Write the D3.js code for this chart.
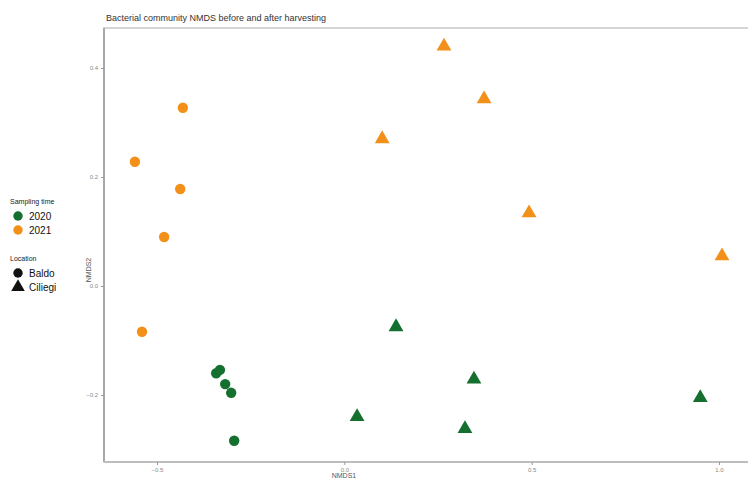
<!DOCTYPE html>
<html>
<head>
<meta charset="utf-8">
<script src="https://cdn.jsdelivr.net/npm/d3@7"></script>
<style>
  body { margin: 0; background: #fff; }
  svg { display: block; font-family: "Liberation Sans", Arial, sans-serif; }
</style>
</head>
<body>
<svg id="chart" width="748" height="480"></svg>
<script>
// NMDS scores per sample
const baldo2020   = [[-0.342, -0.160], [-0.332, -0.154], [-0.318, -0.180], [-0.302, -0.196], [-0.294, -0.284]];
const baldo2021   = [[-0.431, 0.327], [-0.559, 0.228], [-0.438, 0.178], [-0.481, 0.090], [-0.540, -0.084]];
const ciliegi2020 = [[0.138, -0.075], [0.346, -0.171], [0.034, -0.240], [0.322, -0.262], [0.950, -0.205]];
const ciliegi2021 = [[0.266, 0.440], [0.373, 0.343], [0.101, 0.270], [0.493, 0.134], [1.008, 0.055]];

const xTicks = [-0.5, 0.0, 0.5, 1.0];
const yTicks = [-0.2, 0.0, 0.2, 0.4];
const years = ["2020", "2021"];
const locations = ["Baldo", "Ciliegi"];
const yearColor = { "2020": "#15702f", "2021": "#f2901a" };

const svg = d3.select("#chart");
const panel = { left: 104, top: 28, right: 760, bottom: 462 };

const x = d3.scaleLinear().domain([-0.5, 1.0]).range([157, 719]);
const y = d3.scaleLinear().domain([-0.2, 0.4]).range([395, 68]);

// panel frame
svg.append("rect")
  .attr("x", panel.left).attr("y", panel.top)
  .attr("width", panel.right - panel.left).attr("height", panel.bottom - panel.top)
  .attr("fill", "none").attr("stroke", "#c8c8c8").attr("stroke-width", 1.5);
svg.append("line").attr("x1", panel.left).attr("x2", panel.left).attr("y1", panel.top).attr("y2", panel.bottom)
  .attr("stroke", "#a8a8a8").attr("stroke-width", 2);
svg.append("line").attr("x1", panel.left).attr("x2", panel.right).attr("y1", panel.bottom).attr("y2", panel.bottom)
  .attr("stroke", "#bdbdbd").attr("stroke-width", 2);

// axes
const xAxis = svg.append("g").attr("transform", `translate(0,${panel.bottom})`)
  .call(d3.axisBottom(x).tickValues(xTicks).tickFormat(d3.format(".1f")).tickSize(3).tickPadding(3));
const yAxis = svg.append("g").attr("transform", `translate(${panel.left},0)`)
  .call(d3.axisLeft(y).tickValues(yTicks).tickFormat(d3.format(".1f")).tickSize(3).tickPadding(3));
[xAxis, yAxis].forEach(a => {
  a.select(".domain").remove();
  a.selectAll(".tick line").attr("stroke", "#999");
  a.selectAll(".tick text").attr("fill", "#888").attr("font-size", 6);
});

// title and axis titles
svg.append("text").attr("x", 106).attr("y", 21)
  .attr("font-size", 9).attr("fill", "#333")
  .text("Bacterial community NMDS before and after harvesting");
svg.append("text").attr("transform", "translate(91,270) rotate(-90)")
  .attr("text-anchor", "middle").attr("font-size", 7).attr("fill", "#555").text("NMDS2");
svg.append("text").attr("x", 344).attr("y", 478)
  .attr("text-anchor", "middle").attr("font-size", 7).attr("fill", "#555").text("NMDS1");

// points
const circleSym = d3.symbol().type(d3.symbolCircle).size(85);
const triSym = d3.symbol().type(d3.symbolTriangle).size(95);
const groups = [
  { data: baldo2020, year: "2020", loc: "Baldo" },
  { data: baldo2021, year: "2021", loc: "Baldo" },
  { data: ciliegi2020, year: "2020", loc: "Ciliegi" },
  { data: ciliegi2021, year: "2021", loc: "Ciliegi" }
];
groups.forEach(g => {
  svg.append("g").selectAll("path").data(g.data).join("path")
    .attr("transform", d => `translate(${x(d[0])},${y(d[1])})`)
    .attr("d", g.loc === "Baldo" ? circleSym : triSym)
    .attr("fill", yearColor[g.year]);
});

// legends
const lg = svg.append("g");
lg.append("text").attr("x", 10).attr("y", 204).attr("font-size", 7).attr("fill", "#222").text("Sampling time");
years.forEach((yr, i) => {
  const cy = 216 + i * 14;
  lg.append("path").attr("transform", `translate(18,${cy})`)
    .attr("d", d3.symbol().type(d3.symbolCircle).size(70)).attr("fill", yearColor[yr]);
  lg.append("text").attr("x", 29).attr("y", cy + 4).attr("font-size", 10).attr("fill", "#111").text(yr);
});
lg.append("text").attr("x", 10).attr("y", 261).attr("font-size", 7).attr("fill", "#222").text("Location");
locations.forEach((loc, i) => {
  const cy = 273 + i * 14;
  lg.append("path").attr("transform", `translate(18,${cy})`)
    .attr("d", d3.symbol().type(i === 0 ? d3.symbolCircle : d3.symbolTriangle).size(i === 0 ? 70 : 80))
    .attr("fill", "#111");
  lg.append("text").attr("x", 29).attr("y", cy + 4).attr("font-size", 10).attr("fill", "#111").text(loc);
});
</script>
</body>
</html>
